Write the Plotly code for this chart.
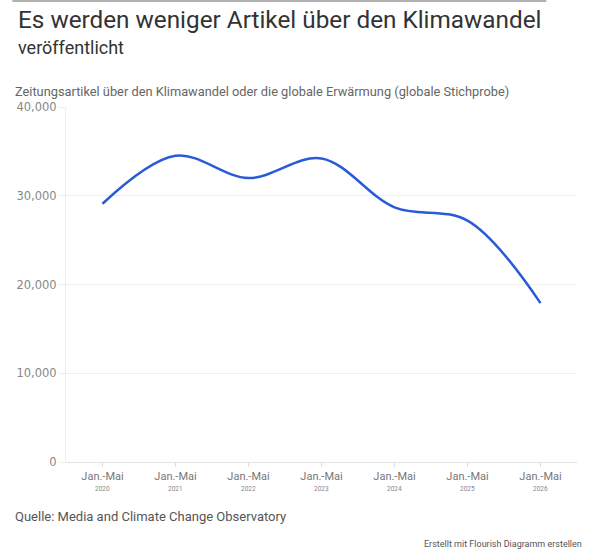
import plotly.graph_objects as go

years = ["2020", "2021", "2022", "2023", "2024", "2025", "2026"]
period_label = "Jan.-Mai"
articles = [29100, 34500, 32000, 34200, 28700, 27200, 17900]
y_ticks = [0, 10000, 20000, 30000, 40000]
y_tick_labels = ["0", "10,000", "20,000", "30,000", "40,000"]

x_idx = list(range(len(years)))

fig = go.Figure()
fig.add_trace(go.Scatter(
    x=x_idx, y=articles, mode="lines",
    line=dict(color="#2a5bd7", width=2.5, shape="spline", smoothing=1.0),
    hoverinfo="skip", showlegend=False,
))

font_family = "Roboto, Open Sans, sans-serif"
fig.update_layout(
    width=600, height=554,
    margin=dict(l=66, r=23, t=107, b=92),
    paper_bgcolor="white", plot_bgcolor="white",
    font=dict(family=font_family, color="#666"),
    xaxis=dict(
        range=[-0.5, 6.5], tickmode="array", tickvals=x_idx,
        ticktext=[period_label] * len(years), tickfont=dict(size=11, color="#777"),
        showgrid=False, zeroline=False, showline=False,
        ticks="outside", ticklen=4, tickcolor="#ddd", ticklabelstandoff=0,
    ),
    yaxis=dict(
        range=[0, 40000], tickmode="array", tickvals=y_ticks, ticktext=y_tick_labels,
        tickfont=dict(size=11.5, color="#888", family="DejaVu Sans, sans-serif"),
        showgrid=True, gridcolor="#eeeeee", gridwidth=1,
        zeroline=True, zerolinecolor="#e2e2e2", zerolinewidth=1,
        showline=True, linecolor="#eeeeee", linewidth=1,
        ticks="outside", ticklen=6, tickcolor="#eeeeee",
    ),
    shapes=[dict(type="line", xref="paper", yref="paper", x0=-0.105, x1=0.94,
                 y0=1 + 106/355, y1=1 + 106/355,
                 line=dict(color="#999", width=1.5))],
)

def paper_y(py):
    # convert pixel y (from top) to paper coords
    return (554 - 92 - py) / (554 - 107 - 92)

def paper_x(px):
    return (px - 66) / (600 - 66 - 23)

for xi, yr in zip(x_idx, years):
    fig.add_annotation(xref="x", yref="paper", x=xi, y=paper_y(489), text=yr,
                       showarrow=False, xanchor="center", yanchor="middle",
                       font=dict(size=6.5, color="#888"))

annotations = [
    dict(text="Es werden weniger Artikel über den Klimawandel", x=paper_x(16), y=paper_y(19),
         font=dict(size=24.3, color="#333")),
    dict(text="veröffentlicht", x=paper_x(16), y=paper_y(47), font=dict(size=18, color="#333")),
    dict(text="Zeitungsartikel über den Klimawandel oder die globale Erwärmung (globale Stichprobe)",
         x=paper_x(13), y=paper_y(91), font=dict(size=12.8, color="#666")),
    dict(text="Quelle: Media and Climate Change Observatory", x=paper_x(13), y=paper_y(516),
         font=dict(size=13, color="#555")),
]
for a in annotations:
    fig.add_annotation(xref="paper", yref="paper", xanchor="left", yanchor="middle",
                       showarrow=False, x=a["x"], y=a["y"], text=a["text"], font=a["font"])
fig.add_annotation(xref="paper", yref="paper", xanchor="right", yanchor="middle", showarrow=False,
                   x=paper_x(584), y=paper_y(544), text="Erstellt mit Flourish Diagramm erstellen",
                   font=dict(size=9, color="#555"))

fig.write_html("out.html")
